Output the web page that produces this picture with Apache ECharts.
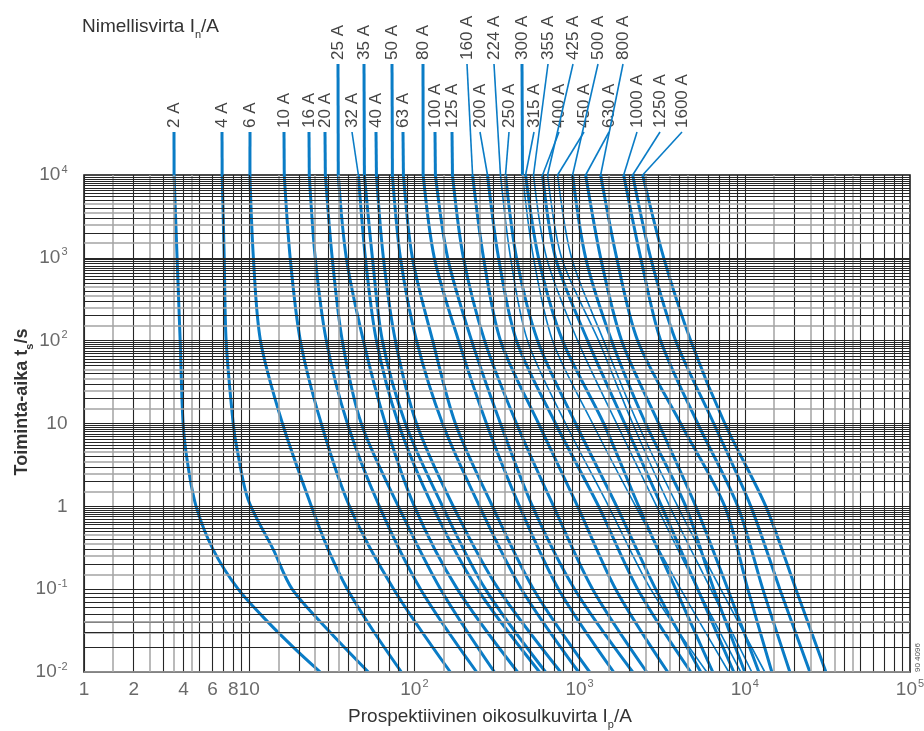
<!DOCTYPE html>
<html><head><meta charset="utf-8">
<script src="https://cdn.jsdelivr.net/npm/echarts@6/dist/echarts.min.js"></script>
<style>html,body{margin:0;padding:0;background:#fff;}#c{width:924px;height:731px;}</style>
</head><body><div id="c"></div>
<script>
// ---------------- DATA ----------------
const RATINGS = [2,4,6,10,16,20,25,32,35,40,50,63,80,100,125,160,200,224,250,300,315,355,400,425,450,500,630,800,1000,1250,1600];
const THIN_RATINGS = [224,300,355,425,450];
// operating times (s) at which currents were read
const T_STD = [10000,1000,100,10,1,0.1,0.01];
const T_2A = [10000,1000,100,10,3,1,0.3,0.1,0.04,0.018,0.01];
const T_4A = [10000,1000,100,10,4.8,1.2,0.3,0.1,0.03,0.01];
const T_6A = [10000,1000,100,10,1,0.3,0.1,0.03,0.01];
// prospective currents (A)
const I_2A = [3.51,3.66,3.82,3.98,4.27,4.77,6.05,8.58,13.0,19.5,26.9];
const I_4A = [6.86,7.06,7.25,8.0,8.46,9.86,14.0,18.2,31.0,52.6];
const I_6A = [10.1,10.6,11.7,15.9,23.8,30.1,39.3,57.2,83.4];
const I_10A = [16.3,17.7,20.4,27.3,40.5,75.0,165];
const I_16A = [23.1,25.1,29.3,39.3,61.4,109,238];
const I_20A = [28.9,31.8,36.6,47.7,80.0,144,305];
const I_25A = [34.6,38.7,49.1,66.7,100,182,421];
const I_32A = [45.8,50.5,58.9,80.0,129,241,572];
const I_35A = [49.8,55.7,64.0,88.2,148,269,622];
const I_40A = [58.9,64.9,76.7,103,172,323,767];
const I_50A = [73.6,82.3,103,148,248,445,986];
const I_63A = [85.8,97.2,129,177,297,526,1150];
const I_80A = [113,132,185,273,433,746,1607];
const I_100A = [134,159,222,332,519,933,2096];
const I_125A = [170,198,266,415,696,1199,2547];
const I_160A = [225,262,332,564,973,1653,3415];
const I_200A = [277,323,415,715,1304,2247,4707];
const I_224A = [332,382,484,823,1499,2693,5884];
const I_250A = [356,415,557,946,1676,2887,5412];
const I_300A = [451,526,686,1199,2185,4093,7998];
const I_315A = [471,564,789,1399,2279,3818,6399];
const I_355A = [526,631,973,1676,2929,5190,9457];
const I_400A = [597,715,1118,1874,3141,5190,8578];
const I_425A = [640,778,1304,2096,3512,6221,11025];
const I_450A = [736,894,1399,2247,3926,7153,13219];
const I_500A = [907,1088,1563,2512,4390,6489,10000];
const I_630A = [1088,1341,1797,3012,5047,7889,12161];
const I_800A = [1341,1676,2247,4093,7565,10428,14579];
const I_1000A = [1848,2343,3097,5190,9070,12856,18740];
const I_1250A = [2096,2693,3818,6489,10875,16300,24770];
const I_1600A = [2409,3230,4707,7565,13406,20380,30970];

const X_TICKS = [1,2,4,6,8,10,100,1000,10000,100000];
const X_TICK_TEXT = ['1','2','4','6','8','10','10^2','10^3','10^4','10^5'];
const Y_TICKS = [10000,1000,100,10,1,0.1,0.01];
const Y_TICK_TEXT = ['10^4','10^3','10^2','10','1','10^-1','10^-2'];
const GRID_X_MULT = [1,1.5,2,2.5,3,3.5,4,4.5,5,6,7,8,9];
const GRID_Y_MULT = [1,1.5,2,2.5,3,3.5,4,4.5,5,5.5,6,6.5,7,7.5,8,8.5,9,9.5];
const GRAY_MULT = [1.5,2.5,3.5,4.5];

// ---------------- LAYOUT (label placement, pixels) ----------------
const LABEL_X = {2:174,4:222,6:250,10:284,16:309,20:325,25:338,32:352,35:364,40:376,50:392,63:403,80:423,100:435,125:452,
  160:467,200:480,224:494,250:509,300:522,315:534,355:548,400:559,425:573,450:584,500:598,630:609,800:623,1000:637,1250:660,1600:682};
const UPPER_ROW = [25,35,50,80,160,224,300,355,425,500,800];

const SERIES_SRC = {
  2:[T_2A,I_2A],4:[T_4A,I_4A],6:[T_6A,I_6A],10:[T_STD,I_10A],16:[T_STD,I_16A],20:[T_STD,I_20A],25:[T_STD,I_25A],
  32:[T_STD,I_32A],35:[T_STD,I_35A],40:[T_STD,I_40A],50:[T_STD,I_50A],63:[T_STD,I_63A],80:[T_STD,I_80A],
  100:[T_STD,I_100A],125:[T_STD,I_125A],160:[T_STD,I_160A],200:[T_STD,I_200A],224:[T_STD,I_224A],250:[T_STD,I_250A],
  300:[T_STD,I_300A],315:[T_STD,I_315A],355:[T_STD,I_355A],400:[T_STD,I_400A],425:[T_STD,I_425A],450:[T_STD,I_450A],
  500:[T_STD,I_500A],630:[T_STD,I_630A],800:[T_STD,I_800A],1000:[T_STD,I_1000A],1250:[T_STD,I_1250A],1600:[T_STD,I_1600A]
};

const BLUE = '#0a7cc6';
const FONT = '"Liberation Sans", Arial, Helvetica, sans-serif';
const TXT = '#444';

function rt(s){
  if (s.indexOf('^') >= 0){ const p = s.split('^'); return '{b|'+p[0]+'}{s|'+p[1]+'}'; }
  return '{b|'+s+'}';
}
const RICH = {
  b:{fontSize:19,fontFamily:FONT,color:TXT,lineHeight:22},
  s:{fontSize:11,fontFamily:FONT,color:TXT,lineHeight:11,verticalAlign:'top',padding:[0,0,0,1]}
};

// grid lines via markLine
const gridLinesX = [], gridLinesY = [];
for (let k=0;k<=4;k++) GRID_X_MULT.forEach(m=>{
  const g = GRAY_MULT.indexOf(m)>=0;
  gridLinesX.push({xAxis:m*Math.pow(10,k),lineStyle:{color:g?'#a3a3a3':'#262626',width:g?1.5:1.1,type:'solid'}});
});
for (let k=-2;k<=3;k++) GRID_Y_MULT.forEach(m=>{
  const g = GRAY_MULT.indexOf(m)>=0;
  gridLinesY.push({yAxis:m*Math.pow(10,k),lineStyle:{color:g?'#a3a3a3':'#262626',width:g?1.5:1.1,type:'solid'}});
});

const series = [{
  type:'line', data:[[1,0.01]], showSymbol:false, lineStyle:{width:0}, silent:true, z:1,
  markLine:{symbol:['none','none'], silent:true, animation:false, label:{show:false}, emphasis:{disabled:true},
    data: gridLinesX.concat(gridLinesY)}
}];
RATINGS.forEach(r=>{
  const src = SERIES_SRC[r];
  const thin = THIN_RATINGS.indexOf(r)>=0;
  series.push({
    type:'line', name:r+' A', data: src[1].map((v,i)=>[v, src[0][i]]),
    smooth:0.3, showSymbol:false, symbol:'none', silent:true, z:3, animation:false,
    lineStyle:{color:BLUE, width: thin?1.6:3}
  });
});
series.push({
  type:'scatter', data:X_TICKS.map(v=>[v,0.01]), symbolSize:1, itemStyle:{color:'rgba(0,0,0,0)'}, clip:false, silent:true, z:5,
  label:{show:true, position:'bottom', distance:6, formatter:p=>rt(X_TICK_TEXT[p.dataIndex]), rich:RICH}
});
series.push({
  type:'scatter', data:Y_TICKS.map(v=>[1,v]), symbolSize:1, itemStyle:{color:'rgba(0,0,0,0)'}, clip:false, silent:true, z:5,
  label:{show:true, position:'left', distance:16, formatter:p=>rt(Y_TICK_TEXT[p.dataIndex]), rich:RICH}
});

const chart = echarts.init(document.getElementById('c'), null, {renderer:'canvas'});
chart.setOption({
  animation:false,
  backgroundColor:'#fff',
  grid:{left:84,right:14,top:175,bottom:59,show:true,borderColor:'#111',borderWidth:1.5,backgroundColor:'#fff',containLabel:false},
  xAxis:{type:'log',logBase:10,min:1,max:100000,axisLabel:{show:false},axisTick:{show:false},axisLine:{show:false},splitLine:{show:false}},
  yAxis:{type:'log',logBase:10,min:0.01,max:10000,axisLabel:{show:false},axisTick:{show:false},axisLine:{show:false},splitLine:{show:false}},
  series: series
});

// labels + leader lines
const graphic = [];
RATINGS.forEach(r=>{
  const src = SERIES_SRC[r];
  const top = chart.convertToPixel({xAxisIndex:0,yAxisIndex:0},[src[1][0], src[0][0]]);
  const upper = UPPER_ROW.indexOf(r)>=0;
  const lx = LABEL_X[r];
  const ly = upper ? 60 : 128;
  const vertical = Math.abs(lx-top[0]) < 3;
  graphic.push({type:'line', silent:true, z:10, shape:{x1:lx,y1:ly+4,x2:top[0],y2:top[1]},
    style:{stroke:BLUE,lineWidth: vertical?3:1.6}});
  graphic.push({type:'text', silent:true, z:10, x:lx, y:ly, rotation:Math.PI/2,
    style:{text:r+' A', fontSize:17, fontFamily:FONT, fill:TXT, align:'left', verticalAlign:'middle'}});
});
graphic.push({type:'text', x:82, y:27, silent:true,
  style:{text:'{a|Nimellisvirta I}{sub|n}{a|/A}', verticalAlign:'middle', align:'left',
    rich:{a:{fontSize:19,fontFamily:FONT,fill:'#333',lineHeight:26},sub:{fontSize:11,fontFamily:FONT,fill:'#333',lineHeight:11,verticalAlign:'bottom'}}}});
graphic.push({type:'text', x:490, y:717, silent:true,
  style:{text:'{a|Prospektiivinen oikosulkuvirta I}{sub|p}{a|/A}', verticalAlign:'middle', align:'center',
    rich:{a:{fontSize:19,fontFamily:FONT,fill:'#333',lineHeight:26},sub:{fontSize:11,fontFamily:FONT,fill:'#333',lineHeight:11,verticalAlign:'bottom'}}}});
graphic.push({type:'text', x:22, y:402, rotation:Math.PI/2, silent:true,
  style:{text:'{a|Toiminta-aika t}{sub|s}{a|/s}', verticalAlign:'middle', align:'center',
    rich:{a:{fontSize:18,fontWeight:'bold',fontFamily:FONT,fill:'#333',lineHeight:26},sub:{fontSize:11,fontWeight:'bold',fontFamily:FONT,fill:'#333',lineHeight:11,verticalAlign:'bottom'}}}});
graphic.push({type:'text', x:918, y:672, rotation:Math.PI/2, silent:true,
  style:{text:'90 4096', fontSize:8, fontFamily:FONT, fill:'#555', align:'left', verticalAlign:'middle'}});
chart.setOption({graphic: graphic});
</script>
</body></html>
